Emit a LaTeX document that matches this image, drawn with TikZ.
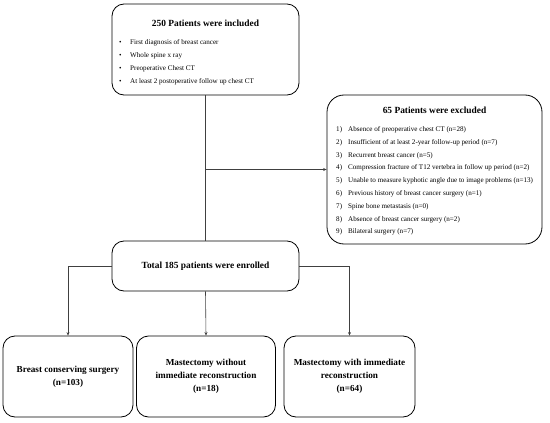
\documentclass[tikz,border=0pt]{standalone}
\usepackage{fontspec}
\setmainfont{Liberation Serif}
\usetikzlibrary{arrows.meta}

\tikzset{
    box/.style = {draw, line width=0.8pt, rounded corners=12pt, inner sep=0pt},
    link/.style = {draw=black!75, line width=0.6pt},
    tip/.style = {link, -{Stealth[length=3.5pt, width=3pt]}},
    head/.style = {font=\fontsize{9.4}{11}\selectfont\bfseries},
    group/.style = {font=\fontsize{9.2}{13}\selectfont\bfseries, align=center}
}

\begin{document}
\begin{tikzpicture}[x=1pt, y=-1pt]
    \useasboundingbox (0,0) rectangle (550,423);
    % boxes
    \node[box, minimum width=187pt, minimum height=91pt] (incl) at (205.5,49.5) {};
    \node[box, rounded corners=17pt, minimum width=215pt, minimum height=149pt] (excl) at (434.5,169.5) {};
    \node[box, minimum width=187pt, minimum height=50pt, head] (total) at (205.5,266) {Total 185 patients were enrolled};
    \node[box, minimum width=130pt, minimum height=81pt, group] (bcs) at (68,376.5) {Breast conserving surgery\\(n=103)};
    \node[box, minimum width=139pt, minimum height=81pt, group] (mwo) at (206,376.5) {Mastectomy without\\immediate reconstruction\\(n=18)};
    \node[box, minimum width=131pt, minimum height=81pt, group] (mwi) at (349.5,376.5) {Mastectomy with immediate\\reconstruction\\(n=64)};

    % texts of the two upper boxes
    \node[head] (incltitle) at (205.5,23) {250 Patients were included};
    \node[anchor=base west, inner sep=0pt, font=\fontsize{7.1}{13}\selectfont] (incllist) at (119,44.5) {%
        \begin{tabular}[t]{@{}p{11pt}@{}l@{}}
        \textbullet & First diagnosis of breast cancer\\
        \textbullet & Whole spine x ray\\
        \textbullet & Preoperative Chest CT\\
        \textbullet & At least 2 postoperative follow up chest CT
        \end{tabular}};
    \node[head] (excltitle) at (434.5,110) {65 Patients were excluded};
    \node[anchor=base west, inner sep=0pt, font=\fontsize{7.1}{12.8}\selectfont] (excllist) at (336,131.5) {%
        \begin{tabular}[t]{@{}p{12pt}@{}l@{}}
        1) & Absence of preoperative chest CT (n=28)\\
        2) & Insufficient of at least 2-year follow-up period (n=7)\\
        3) & Recurrent breast cancer (n=5)\\
        4) & Compression fracture of T12 vertebra in follow up period (n=2)\\
        5) & Unable to measure kyphotic angle due to image problems (n=13)\\
        6) & Previous history of breast cancer surgery (n=1)\\
        7) & Spine bone metastasis (n=0)\\
        8) & Absence of breast cancer surgery (n=2)\\
        9) & Bilateral surgery (n=7)
        \end{tabular}};

    % connectors
    \coordinate (split) at (incl.south |- excl.west);
    \draw[link] (incl.south) -- (total.north);
    \draw[tip] (split) -- (excl.west);
    \draw[tip] (total.west) -| (bcs.north);
    \draw[tip] (total.south) -- (mwo.north);
    \draw[tip] (total.east) -| (mwi.north);
\end{tikzpicture}
\end{document}
